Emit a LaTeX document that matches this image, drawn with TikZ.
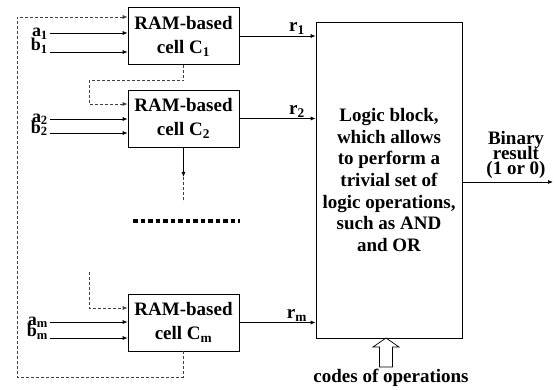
\documentclass[tikz,border=0pt]{standalone}
\usepackage{fontspec}
\setmainfont{Liberation Serif}
\usetikzlibrary{arrows.meta}
\lineskiplimit=-30pt
\tikzset{
  cell/.style={draw,line width=0.7pt,minimum width=111pt,minimum height=57pt,align=center,inner sep=0pt,font=\bfseries\fontsize{19}{24}\selectfont},
  pairA/.style={inner sep=0pt,anchor=north east,align=right,font=\bfseries\fontsize{18}{14}\selectfont},
  pairB/.style={inner sep=0pt,anchor=north east,align=right,font=\bfseries\fontsize{18}{11}\selectfont},
  pairC/.style={inner sep=0pt,anchor=north east,align=right,font=\bfseries\fontsize{18}{11.5}\selectfont},
  rl/.style={inner sep=0pt,anchor=base},
  dsh/.style={dashed,dash pattern=on 3pt off 2pt,draw=black!75,line width=0.7pt},
  wire/.style={line width=0.7pt}}
\begin{document}
\begin{tikzpicture}[x=1pt,y=-1pt,
  font=\bfseries\fontsize{19}{22}\selectfont,
  >={Latex[length=5pt,width=4pt]}]
\useasboundingbox (0,0) rectangle (555,390);
% cells
\node[cell] (c1) at (183.5,36) {RAM-based\\cell C\textsubscript{1}};
\node[cell] (c2) at (183.5,118.5) {RAM-based\\cell C\textsubscript{2}};
\node[cell] (cm) at (183.5,322.5) {RAM-based\\cell C\textsubscript{m}};
\node[draw,line width=0.7pt,minimum width=146pt,minimum height=316pt,inner sep=0pt,align=center,font=\bfseries\fontsize{19}{21.7}\selectfont] (logic) at (389,180)
 {Logic block,\\which allows\\to perform a\\trivial set of\\logic operations,\\such as AND\\and OR};
% input coordinates
\coordinate (a1) at (50,33); \coordinate (b1) at (50,52);
\coordinate (a2) at (50,119); \coordinate (b2) at (50,133);
\coordinate (am) at (50,322); \coordinate (bm) at (50,338);
\draw[wire,->] (a1) -- (c1.west |- a1);
\draw[wire,->] (b1) -- (c1.west |- b1);
\draw[wire,->] (a2) -- (c2.west |- a2);
\draw[wire,->] (b2) -- (c2.west |- b2);
\draw[wire,->] (am) -- (cm.west |- am);
\draw[wire,->] (bm) -- (cm.west |- bm);
\node[pairA] (ab1) at (48,28) {a\textsubscript{1}\\b\textsubscript{1}};
\node[pairB] (ab2) at (48,113.5) {a\textsubscript{2}\\b\textsubscript{2}};
\node[pairC] (abm) at (48,316.5) {a\textsubscript{m}\\b\textsubscript{m}};
% outputs r
\draw[wire,->] (c1.east) -- (logic.west |- c1.east);
\draw[wire,->] (c2.east) -- (logic.west |- c2.east);
\draw[wire,->] (cm.east) -- (logic.west |- cm.east);
\node[rl] (r1) at (297,32) {r\textsubscript{1}};
\node[rl] (r2) at (297,115) {r\textsubscript{2}};
\node[rl] (rm) at (297,319) {r\textsubscript{m}};
% dashed loop
\coordinate (loopL) at (17,377);
\coordinate (top) at (17,17);
\draw[dsh,->] (cm.south) |- (loopL) |- (c1.west |- top);
% C1 to C2
\coordinate (k1) at (89,104);
\draw[dsh,->] (c1.south) -- ++(0,16) -| (k1) -- (c2.west |- k1);
% C2 down
\coordinate (d1) at (183.5,177);
\coordinate (d2) at (183.5,202);
\draw[wire,->] (c2.south) -- (d1);
\draw[dsh] (d1) -- (d2);
% into Cm
\coordinate (km) at (89,272);
\coordinate (km2) at (89,308);
\draw[dsh,->] (km) -- (km2) -- (cm.west |- km2);
% dotted
\coordinate (dl) at (133,221);
\coordinate (dr) at (240,221);
\draw[line width=4pt,dash pattern=on 4.5pt off 3pt] (dl) -- (dr);
% output
\coordinate (out) at (553,182);
\draw[wire,->] (logic.east |- out) -- (out);
\node[align=center,inner sep=0pt,font=\bfseries\fontsize{19}{15}\selectfont] (bin) at (516,155) {Binary\\result\\(1 or 0)};
% hollow arrow
\draw[line width=0.7pt] (379.5,367) -- (379.5,347) -- (373,347) -- (386,338) -- (399,347) -- (392.5,347) -- (392.5,367) -- cycle;
\node[inner sep=0pt] (codes) at (391,378) {codes of operations};
\end{tikzpicture}
\end{document}
